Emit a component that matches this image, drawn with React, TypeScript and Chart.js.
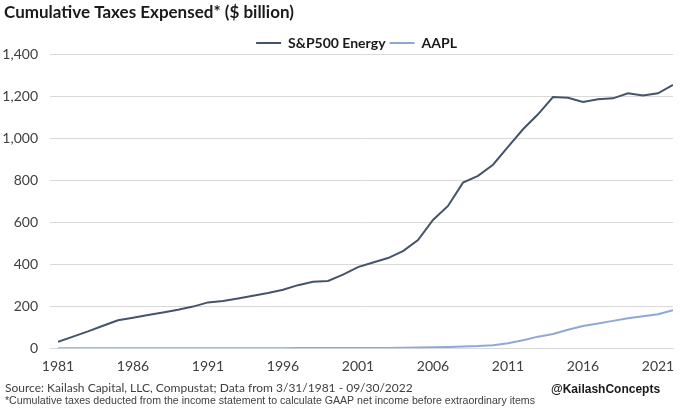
import React, { useEffect, useRef } from "react";
import { Chart, registerables } from "chart.js";

Chart.register(...registerables);

const years: number[] = [
  1981, 1982, 1983, 1984, 1985, 1986, 1987, 1988, 1989, 1990,
  1991, 1992, 1993, 1994, 1995, 1996, 1997, 1998, 1999, 2000,
  2001, 2002, 2003, 2004, 2005, 2006, 2007, 2008, 2009, 2010,
  2011, 2012, 2013, 2014, 2015, 2016, 2017, 2018, 2019, 2020,
  2021, 2022,
];

const energy: number[] = [
  30, 55, 80, 107, 133, 145, 158, 170, 183, 198,
  218, 225, 237, 250, 263, 278, 300, 316, 320, 350,
  386, 408, 429, 462, 515, 610, 677, 788, 820, 873,
  958, 1042, 1113, 1195, 1192, 1172, 1185, 1189, 1213, 1203,
  1213, 1253,
];

const aapl: number[] = [
  0, 0, 0, 0, 0, 0, 0, 0, 0, 0,
  0, 0, 0, 0, 0, 0, 1, 1, 1, 1,
  1, 1, 1, 2, 3, 4, 6, 8, 10, 14,
  24, 38, 55, 68, 88, 106, 118, 130, 142, 152,
  162, 181,
];

const xTicks: number[] = [1981, 1986, 1991, 1996, 2001, 2006, 2011, 2016, 2021];

const titleText = "Cumulative Taxes Expensed* ($ billion)";
const sourceText = "Source: Kailash Capital, LLC, Compustat; Data from 3/31/1981 - 09/30/2022";
const noteText = "*Cumulative taxes deducted from the income statement to calculate GAAP net income before extraordinary items";
const handleText = "@KailashConcepts";

const legendShift = {
  id: "legendShift",
  afterLayout(chart: any) {
    const lg = chart.legend;
    if (lg) {
      lg.top += 6;
      lg.bottom += 6;
      lg.left += 20;
      lg.right += 20;
    }
  },
};

const textPlugin = {
  id: "textPlugin",
  afterDraw(chart: any) {
    const ctx = chart.ctx;
    ctx.save();
    ctx.textBaseline = "middle";
    ctx.textAlign = "left";
    ctx.fillStyle = "#1a1a1a";
    ctx.font = "bold 17px Lato";
    ctx.fillText(titleText, 4, 13);
    ctx.fillStyle = "#404040";
    ctx.font = "12px Lato";
    ctx.fillText(sourceText, 5, 388);
    ctx.font = "10.6px 'Liberation Sans Narrow', 'Liberation Sans'";
    ctx.fillText(noteText, 5, 401);
    ctx.fillStyle = "#1a1a1a";
    ctx.font = "bold 12px 'Liberation Sans'";
    ctx.fillText(handleText, 551, 390);
    ctx.restore();
  },
};

export default function App() {
  const ref = useRef<HTMLCanvasElement | null>(null);
  useEffect(() => {
    if (!ref.current) return;
    const chart = new Chart(ref.current, {
      type: "line",
      data: {
        datasets: [
          {
            label: "S&P500 Energy",
            data: years.map((y, i) => ({ x: y, y: energy[i] })),
            borderColor: "#44546A",
            backgroundColor: "#44546A",
            borderWidth: 2,
            pointRadius: 0,
            tension: 0,
          },
          {
            label: "AAPL",
            data: years.map((y, i) => ({ x: y, y: aapl[i] })),
            borderColor: "#8EA9D8",
            backgroundColor: "#8EA9D8",
            borderWidth: 2,
            pointRadius: 0,
            tension: 0,
          },
        ],
      },
      options: {
        animation: false,
        responsive: false,
        layout: { padding: { left: 0, right: 7, top: 26, bottom: 32 } },
        plugins: {
          title: { display: false },
          tooltip: { enabled: false },
          legend: {
            display: true,
            position: "top",
            labels: {
              boxWidth: 25,
              boxHeight: 0,
              padding: 4,
              color: "#1a1a1a",
              font: { family: "Lato", size: 14, weight: "bold" },
              generateLabels(chart: any) {
                return chart.data.datasets.map((ds: any, i: number) => ({
                  text: ds.label,
                  fillStyle: ds.borderColor,
                  strokeStyle: ds.borderColor,
                  lineWidth: 2,
                  datasetIndex: i,
                  fontColor: "#1a1a1a",
                }));
              },
            },
          },
        },
        scales: {
          x: {
            type: "linear",
            min: 1981,
            max: 2022,
            afterBuildTicks(scale: any) {
              scale.ticks = xTicks.map((v) => ({ value: v }));
            },
            ticks: {
              autoSkip: false,
              maxRotation: 0,
              color: "#404040",
              font: { family: "Lato", size: 14 },
              padding: 2,
              callback: (v: any) => String(v),
            },
            grid: { display: false },
            border: { display: true, color: "#d9d9d9" },
          },
          y: {
            min: 0,
            max: 1400,
            afterFit(scale: any) {
              scale.width = 58;
            },
            ticks: {
              stepSize: 200,
              color: "#404040",
              font: { family: "Lato", size: 14 },
              padding: 12,
              callback: (v: any) => Number(v).toLocaleString("en-US"),
            },
            grid: { color: "#d9d9d9", tickLength: 8, tickColor: "#d9d9d9" },
            border: { display: false },
          },
        },
      },
      plugins: [legendShift, textPlugin],
    });
    return () => chart.destroy();
  }, []);
  return (
    <div style={{ position: "absolute", left: 0, top: 0, width: 680, height: 409, background: "#fff" }}>
      <canvas ref={ref} width={680} height={409} />
    </div>
  );
}
